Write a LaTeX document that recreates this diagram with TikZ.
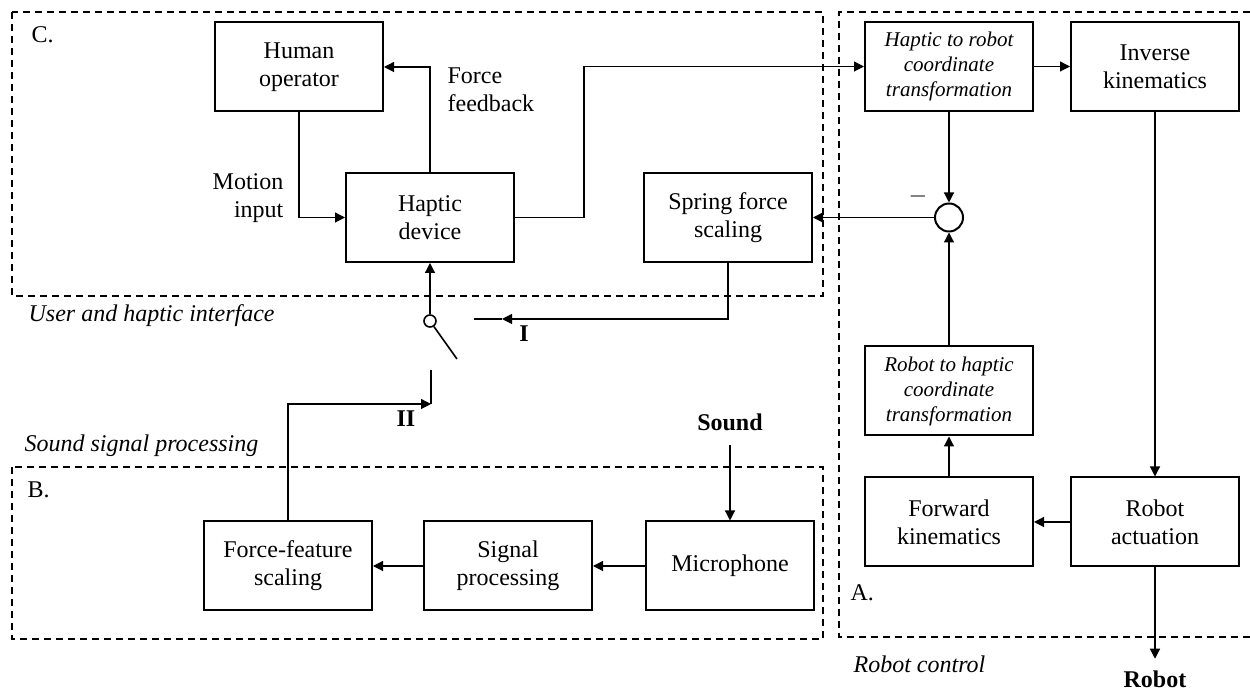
\documentclass[tikz,border=0pt]{standalone}
\usepackage{fontspec}
\setmainfont{Liberation Serif}
\usetikzlibrary{arrows.meta,positioning}

\begin{document}
\begin{tikzpicture}[x=0.5pt, y=-0.5pt, >={Triangle[length=5pt,width=5pt]},
                line width=0.6pt,
                block/.style={rectangle, draw, line width=1pt, minimum width=84pt,
                  minimum height=44.5pt, align=center, font=\fontsize{12}{14}\selectfont},
                tblock/.style={block, font=\itshape\fontsize{10.5}{12.5}\selectfont},
                sum node/.style={circle, draw, line width=1pt, minimum size=14pt, inner sep=0pt},
                group/.style={dash pattern=on 3.5pt off 2.5pt, line width=0.8pt},
                tag/.style={inner sep=0pt, font=\fontsize{12}{14}\selectfont},
                title/.style={inner sep=0pt, font=\itshape\fontsize{12}{14}\selectfont},
                signal/.style={inner sep=2pt, font=\bfseries\fontsize{12}{14}\selectfont}]
  \useasboundingbox (0,0) rectangle (1250,694);

  % groups
  \draw[group] (12,12) rectangle (823,296);
  \draw[group] (12,467) rectangle (823,639);
  \draw[group] (1250,12) -- (839,12) -- (839,637) -- (1250,637);
  \node[tag, anchor=west] (tagC) at (31,35) {C.};
  \node[tag, anchor=west] (tagB) at (27,490) {B.};
  \node[tag, anchor=west] (tagA) at (850,593) {A.};
  \node[title, anchor=west] (userif) at (28,316) {User and haptic interface};
  \node[title, anchor=west] (soundproc) at (24,446) {Sound signal processing};
  \node[title, anchor=west] (robotctrl) at (853,664) {Robot control};

  % user and haptic interface
  \node[block] (human) at (299,67) {Human\\operator};
  \node[block] (haptic) at (430,217.5) {Haptic\\device};
  \node[block] (spring) at (728,217.5) {Spring force\\scaling};
  \node[tag, anchor=west, align=left] (forcefb) at (447,90) {Force\\feedback};
  \node[tag, anchor=east, align=right] (motionin) at (284,198) {Motion\\input};

  % robot control
  \node[tblock] (htor) at (949,66.5) {Haptic to robot\\coordinate\\transformation};
  \node[block, right=18pt of htor] (invkin) {Inverse\\kinematics};
  \node[sum node] (sum) at (949,217.5) {};
  \node[tag] (minus) at (918,197) {$-$};
  \node[tblock] (rtoh) at (949,391) {Robot to haptic\\coordinate\\transformation};
  \node[block] (fwdkin) at (949,522) {Forward\\kinematics};
  \node[block, right=18pt of fwdkin] (act) {Robot\\actuation};
  \coordinate (rbase) at (0,688);
  \node[signal, anchor=base] (robot) at (act.south |- rbase) {Robot};

  % sound signal processing
  \node[block] (ffs) at (288,566) {Force-feature\\scaling};
  \node[block, right=25pt of ffs] (sigproc) {Signal\\processing};
  \node[block, right=26pt of sigproc] (mic) {Microphone};
  \coordinate (sbase) at (0,431);
  \node[signal, anchor=base] (sound) at (mic.north |- sbase) {Sound};

  % switch
  \node[circle, draw, line width=0.8pt, minimum size=6pt, inner sep=0pt] (sw) at (430,321) {};
  \coordinate (blade) at (457,359);
  \coordinate (swI) at (474,319);
  \coordinate (arrI) at (502,319);
  \coordinate (swII) at (431,370);
  \coordinate (arrII) at (431,404);
  \node[signal, inner sep=0pt] (labI) at (524,334) {I};
  \node[signal, inner sep=0pt] (labII) at (406,419) {II};

  \draw[->] (haptic.north) |- (human.east);
  \draw[->] (human.south) |- (haptic.west);
  \draw[->] (haptic.east) -- ++(69,0) |- (htor.west);
  \draw[->] (htor) -- (invkin);
  \draw[->] (htor) -- (sum);
  \draw[->] (sum) -- (spring);
  \draw[->] (rtoh) -- (sum);
  \draw[->] (fwdkin) -- (rtoh);
  \draw[->] (act) -- (fwdkin);
  \draw[->] (invkin.south) -- (act.north);
  \draw[->, shorten >=4pt] (act.south) -- (robot.north);
  \draw[->, shorten <=4.5pt] (sound.south) -- (mic.north);
  \draw[->] (mic) -- (sigproc);
  \draw[->] (sigproc) -- (ffs);
  \draw[->] (ffs.north) |- (arrII);
  \draw (arrII) -- (swII);
  \draw[->] (spring.south) |- (arrI);
  \draw (arrI) -- (swI);
  \draw[->] (sw) -- (haptic.south);
  \draw[line width=0.8pt] (sw.-55) -- (blade);
\end{tikzpicture}
\end{document}
